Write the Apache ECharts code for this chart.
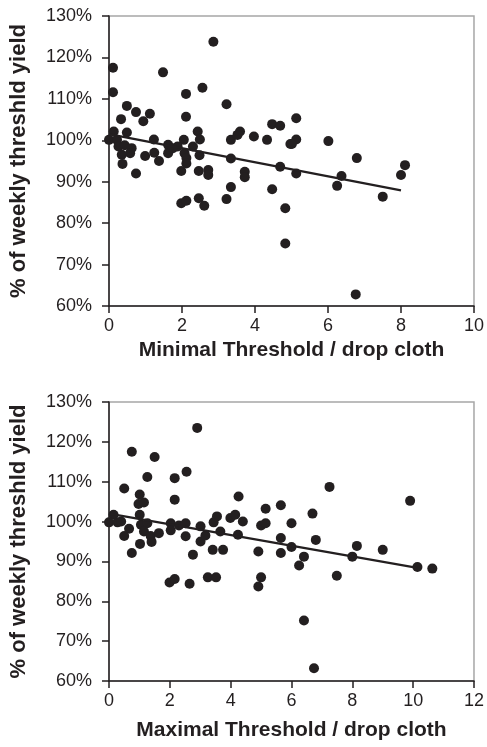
<!DOCTYPE html>
<html>
<head>
    <meta charset="UTF-8">
    <title>Threshold yield</title>
    <script src="https://cdn.jsdelivr.net/npm/echarts@6/dist/echarts.min.js"></script>
    <style>
        body { margin: 0; background: #fff; }
        #main { width: 487px; height: 747px; }
    </style>
</head>
<body>
<div id="main"></div>
<script type="text/javascript">
    // axis texts
    var yAxisName = '% of weekly threshld yield';
    var minName = 'Minimal Threshold / drop cloth';
    var maxName = 'Maximal Threshold / drop cloth';

    // top panel: minimal threshold vs % of weekly yield
    var minPoints = [
        [0.11, 117.5], [1.48, 116.4], [2.86, 123.8], [0.11, 111.6], [2.56, 112.7], [2.11, 111.2],
        [0.49, 108.3], [0.74, 106.8], [1.12, 106.4], [0.94, 104.6], [0.33, 105.1], [2.11, 105.7],
        [3.22, 108.7], [4.47, 103.9], [4.69, 103.5], [0.13, 102.1], [0.49, 101.9], [0, 100.1],
        [0.22, 100.1], [1.23, 100.2], [2.05, 100.1], [2.43, 102.1], [2.49, 100.2], [3.34, 100.1],
        [3.59, 102.1], [3.52, 101.3], [3.97, 100.9], [4.33, 100.1], [4.97, 99.1], [0.26, 98.5],
        [0.43, 98.8], [0.62, 98.1], [0.58, 96.9], [0.35, 96.5], [0.37, 94.3], [0.99, 96.2],
        [1.24, 97.0], [1.37, 95.0], [0.74, 92.0], [1.62, 98.9], [1.62, 96.9], [1.75, 98.1],
        [1.88, 98.5], [2.07, 96.9], [2.12, 95.7], [2.12, 94.4], [1.98, 92.6], [2.30, 98.5],
        [2.48, 96.4], [2.46, 92.6], [2.72, 92.8], [2.72, 91.6], [3.34, 95.6], [3.72, 92.4],
        [3.72, 91.1], [4.69, 93.6], [5.13, 105.3], [5.13, 100.2], [5.01, 99.1], [6.01, 99.8],
        [6.79, 95.7], [8.11, 94.0], [8.00, 91.6], [5.13, 92.0], [6.37, 91.4], [6.25, 89.0],
        [7.50, 86.4], [4.83, 83.6], [4.83, 75.1], [6.76, 62.8], [3.34, 88.7], [4.47, 88.2],
        [1.98, 84.8], [2.12, 85.4], [2.46, 86.0], [2.61, 84.2], [3.22, 85.8]
    ];
    var minTrend = [[0, 101.5], [8, 87.9]];

    // bottom panel: maximal threshold vs % of weekly yield
    var maxPoints = [
        [2.90, 123.5], [0.75, 117.5], [1.50, 116.2], [1.26, 111.2], [2.16, 110.9], [2.55, 112.5],
        [0.50, 108.3], [1.01, 106.8], [0.97, 104.4], [1.15, 104.8], [2.16, 105.5], [4.26, 106.3],
        [5.15, 103.2], [5.65, 104.1], [0.15, 101.7], [0, 99.8], [0.28, 99.8], [0.40, 100.0],
        [1.01, 101.7], [1.05, 99.2], [1.26, 99.6], [0.66, 98.2], [0.50, 96.4], [1.15, 97.5],
        [1.37, 96.4], [1.64, 97.1], [1.02, 94.4], [1.40, 94.9], [2.03, 99.6], [2.03, 97.8],
        [2.30, 99.0], [2.52, 99.6], [2.52, 96.3], [3.01, 98.8], [3.01, 95.0], [3.17, 96.5],
        [3.44, 99.8], [3.55, 101.3], [3.66, 97.5], [3.99, 100.9], [4.15, 101.7], [4.40, 100.0],
        [4.24, 96.7], [5.00, 99.0], [5.15, 99.6], [6.00, 99.6], [0.75, 92.1], [2.76, 91.7],
        [3.41, 92.9], [3.75, 92.9], [4.91, 92.5], [5.65, 92.1], [1.99, 84.7], [2.16, 85.6],
        [2.65, 84.4], [3.25, 86.0], [3.52, 86.0], [5.00, 86.0], [4.91, 83.7], [7.25, 108.7],
        [9.90, 105.2], [6.69, 102.0], [5.65, 95.9], [6.80, 95.4], [8.15, 93.9], [9.00, 92.9],
        [6.00, 93.6], [8.00, 91.2], [6.41, 91.2], [6.25, 89.0], [7.49, 86.4], [10.14, 88.6],
        [10.63, 88.2], [6.41, 75.2], [6.74, 63.2]
    ];
    var maxTrend = [[0, 102.0], [10.14, 88.4]];

    var ink = '#231f20';
    var font = '"Liberation Sans", Arial, sans-serif';

    function xAxisOf(gridIndex, max, name, gap) {
        return {
            gridIndex: gridIndex, type: 'value', min: 0, max: max, interval: 2,
            name: name, nameLocation: 'middle', nameGap: gap,
            nameTextStyle: { color: ink, fontSize: 21, fontWeight: 'bold', fontFamily: font },
            axisLine: { lineStyle: { color: ink, width: 1.5 } },
            axisTick: { length: 7, lineStyle: { color: ink, width: 1.5 } },
            axisLabel: { color: ink, fontSize: 18, fontFamily: font, margin: 11 },
            splitLine: { show: false }
        };
    }

    function yAxisOf(gridIndex) {
        return {
            gridIndex: gridIndex, type: 'value', min: 60, max: 130, interval: 10,
            name: yAxisName, nameLocation: 'middle', nameGap: 79,
            nameTextStyle: { color: ink, fontSize: 22, fontWeight: 'bold', fontFamily: font },
            axisLine: { show: true, lineStyle: { color: ink, width: 1.5 } },
            axisTick: { show: true, length: 7, lineStyle: { color: ink, width: 1.5 } },
            axisLabel: { color: ink, fontSize: 18, fontFamily: font, margin: 17, formatter: '{value}%' },
            splitLine: { show: false }
        };
    }

    function dots(i, data) {
        return {
            type: 'scatter', xAxisIndex: i, yAxisIndex: i, data: data,
            symbolSize: 10, itemStyle: { color: ink, opacity: 1 }, z: 3
        };
    }

    function trend(i, data) {
        return {
            type: 'line', xAxisIndex: i, yAxisIndex: i, data: data,
            symbol: 'none', lineStyle: { color: ink, width: 2.2 }, z: 4
        };
    }

    var myChart = echarts.init(document.getElementById('main'));

    var option = {
        backgroundColor: '#fff',
        animation: false,
        grid: [
            { left: 107, top: 16, width: 368, height: 290, show: true, borderColor: '#a6a6a6', borderWidth: 1.5 },
            { left: 108, top: 402, width: 367, height: 279, show: true, borderColor: '#a6a6a6', borderWidth: 1.5 }
        ],
        xAxis: [xAxisOf(0, 10, minName, 34), xAxisOf(1, 12, maxName, 39)],
        yAxis: [yAxisOf(0), yAxisOf(1)],
        series: [
            dots(0, minPoints), trend(0, minTrend),
            dots(1, maxPoints), trend(1, maxTrend)
        ]
    };

    myChart.setOption(option);
</script>
</body>
</html>
